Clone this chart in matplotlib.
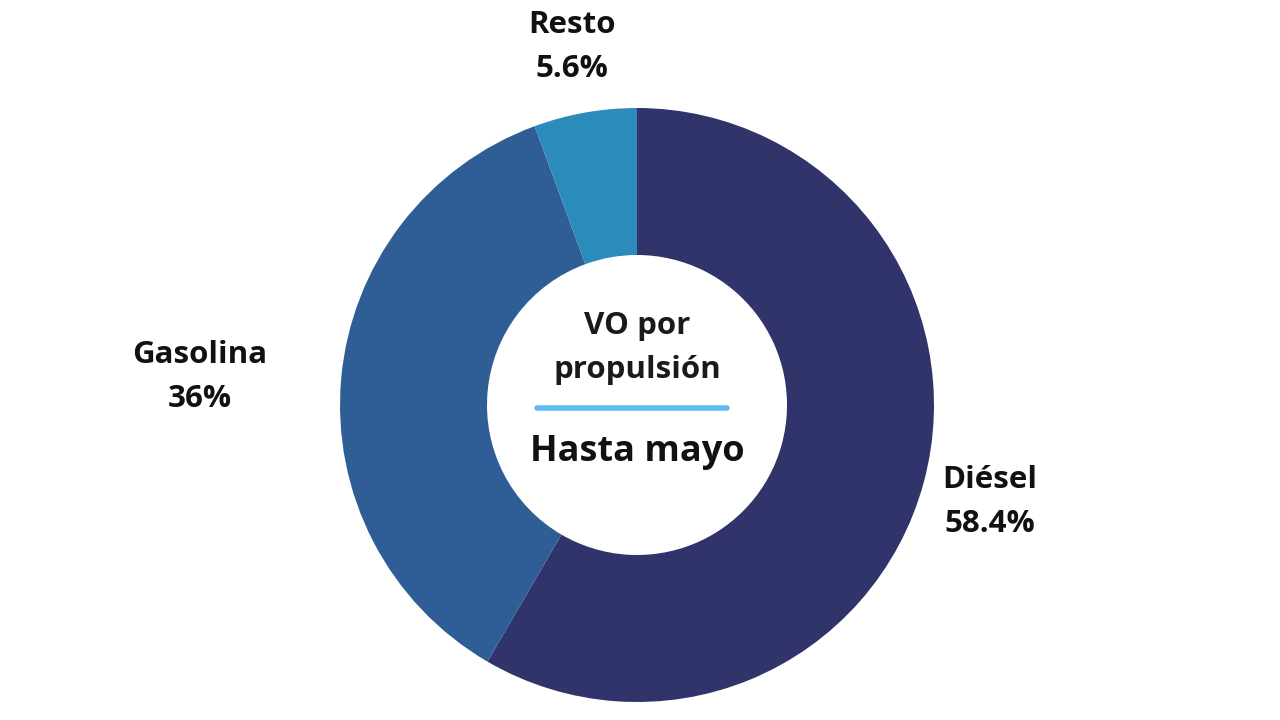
import matplotlib.pyplot as plt

# datos del gráfico
etiquetas = ["Diésel", "Gasolina", "Resto"]
porcentajes = [58.4, 36.0, 5.6]
textos_pct = ["58.4%", "36%", "5.6%"]
colores = ["#31346b", "#2f5e97", "#2b8bbb"]

plt.rcParams['font.family'] = ['Open Sans', 'DejaVu Sans']

fig = plt.figure(figsize=(12.8, 7.2), dpi=100)
ax = fig.add_axes([0, 0, 1, 1])

cx, cy = 637, 720 - 405
radio = 297

ax.pie(porcentajes, colors=colores, startangle=90, counterclock=False,
       center=(cx, cy), radius=radio, frame=True,
       wedgeprops=dict(width=radio - 150, linewidth=0))
ax.set_xlim(0, 1280)
ax.set_ylim(0, 720)
ax.set_aspect('equal')
ax.axis('off')

# etiquetas exteriores
pos_etiquetas = [(990, 720 - 502), (200, 720 - 377), (572, 720 - 47)]
for (x, y), nombre, pct in zip(pos_etiquetas, etiquetas, textos_pct):
    ax.text(x, y, f"{nombre}\n{pct}", ha='center', va='center',
            fontsize=22.5, fontweight='bold', color='#111111', linespacing=1.6)

# texto central
ax.text(cx, 720 - 326, "VO por", ha='center', va='center', fontsize=22.5,
        fontweight='bold', color='#1a1a1a')
ax.text(cx, 720 - 370, "propulsión", ha='center', va='center', fontsize=22.5,
        fontweight='bold', color='#1a1a1a')
ax.plot([537, 727], [720 - 408, 720 - 408], color='#5bbdf0', linewidth=4,
        solid_capstyle='round')
ax.text(cx, 720 - 452, "Hasta mayo", ha='center', va='center', fontsize=26,
        fontweight='bold', color='#111111')

fig.savefig("out.png", dpi=100, facecolor='white')
